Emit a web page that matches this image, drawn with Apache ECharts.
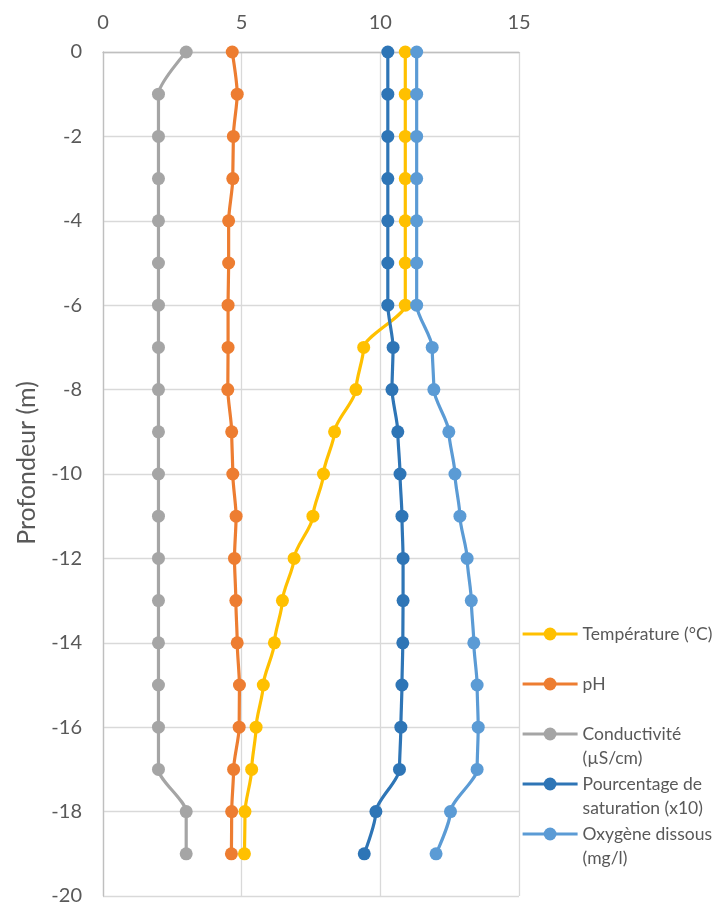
<!DOCTYPE html>
<html>
<head>
<meta charset="utf-8">
<script src="https://cdn.jsdelivr.net/npm/echarts@6/dist/echarts.min.js"></script>
<style>
html,body{margin:0;padding:0;background:#fff;}
#main{width:713px;height:906px;}
</style>
</head>
<body>
<div id="main"></div>
<script>
// Depth (m)
var depths = [0,-1,-2,-3,-4,-5,-6,-7,-8,-9,-10,-11,-12,-13,-14,-15,-16,-17,-18,-19];
var temperature = [10.9,10.9,10.9,10.9,10.9,10.9,10.9,9.4,9.12,8.35,7.95,7.57,6.89,6.47,6.18,5.78,5.52,5.36,5.12,5.1];
var ph = [4.66,4.84,4.7,4.68,4.53,4.53,4.51,4.51,4.5,4.64,4.68,4.8,4.74,4.79,4.84,4.92,4.91,4.71,4.64,4.63];
var conductivity = [3,2,2,2,2,2,2,2,2,2,2,2,2,2,2,2,2,2,3,3];
var saturation = [10.27,10.27,10.27,10.27,10.27,10.27,10.27,10.46,10.42,10.63,10.71,10.78,10.82,10.82,10.81,10.78,10.74,10.69,9.84,9.42];
var oxygen = [11.31,11.31,11.31,11.31,11.31,11.31,11.31,11.87,11.93,12.47,12.69,12.87,13.13,13.28,13.37,13.49,13.53,13.49,12.53,12.01];

var seriesNames = ['Température (°C)','pH','Conductivité (µS/cm)','Pourcentage de saturation (x10)','Oxygène dissous (mg/l)'];
var legendLabels = ['Température (°C)','pH','Conductivité\n(µS/cm)','Pourcentage de\nsaturation (x10)','Oxygène dissous\n(mg/l)'];
var seriesValues = [temperature, ph, conductivity, saturation, oxygen];
var colors = ['#FFC000','#ED7D31','#A5A5A5','#2E75B6','#5B9BD5'];

var FONT = 'Lato, "Open Sans", sans-serif';
var TXT = '#595959';

function pairs(vals){ return vals.map(function(v,i){ return [v, depths[i]]; }); }

var series = seriesNames.map(function(n,i){
  return {
    name: n, type: 'line', data: pairs(seriesValues[i]),
    smooth: 0.25, smoothMonotone: 'y',
    symbol: 'circle', symbolSize: 13,
    lineStyle: {width: 3.2, color: colors[i]},
    itemStyle: {color: colors[i]},
    emphasis: {disabled: true},
    animation: false
  };
});

var legendTops = [634, 684, 734, 784, 834];
var LH = 24;
var legends = seriesNames.map(function(n,i){
  var two = legendLabels[i].indexOf('\n') >= 0;
  return {
    data: [n],
    left: 516,
    top: two ? legendTops[i] - 1.5*LH - 5 : legendTops[i] - LH/2 - 5,
    itemWidth: 55, itemHeight: 16, itemGap: 0,
    lineStyle: {width: 3.2},
    formatter: function(){ return two ? '\n' + legendLabels[i] : legendLabels[i]; },
    textStyle: {fontFamily: FONT, fontSize: 17.5, color: TXT, lineHeight: LH},
    selectedMode: false
  };
});

var chart = echarts.init(document.getElementById('main'), null, {renderer: 'canvas'});
chart.setOption({
  backgroundColor: '#ffffff',
  color: colors,
  animation: false,
  grid: {left: 103, right: 194, top: 52, bottom: 10, containLabel: false},
  legend: legends,
  xAxis: {
    type: 'value', position: 'top', min: 0, max: 15, interval: 5,
    axisLine: {show: true, lineStyle: {color: '#BFBFBF', width: 1.3}},
    axisTick: {show: false},
    axisLabel: {fontFamily: FONT, fontSize: 20, color: TXT, margin: 19},
    splitLine: {show: true, lineStyle: {color: '#D9D9D9', width: 1.3}}
  },
  yAxis: {
    type: 'value', min: -20, max: 0, interval: 2,
    name: 'Profondeur (m)', nameLocation: 'middle', nameRotate: 90, nameGap: 64,
    nameTextStyle: {fontFamily: FONT, fontSize: 25, color: TXT, padding: [0,0,0,22]},
    axisLine: {show: true, onZero: false, lineStyle: {color: '#BFBFBF', width: 1.3}},
    axisTick: {show: false},
    axisLabel: {fontFamily: FONT, fontSize: 20, color: TXT, margin: 21},
    splitLine: {show: true, lineStyle: {color: '#D9D9D9', width: 1.3}}
  },
  series: series
});
</script>
</body>
</html>
